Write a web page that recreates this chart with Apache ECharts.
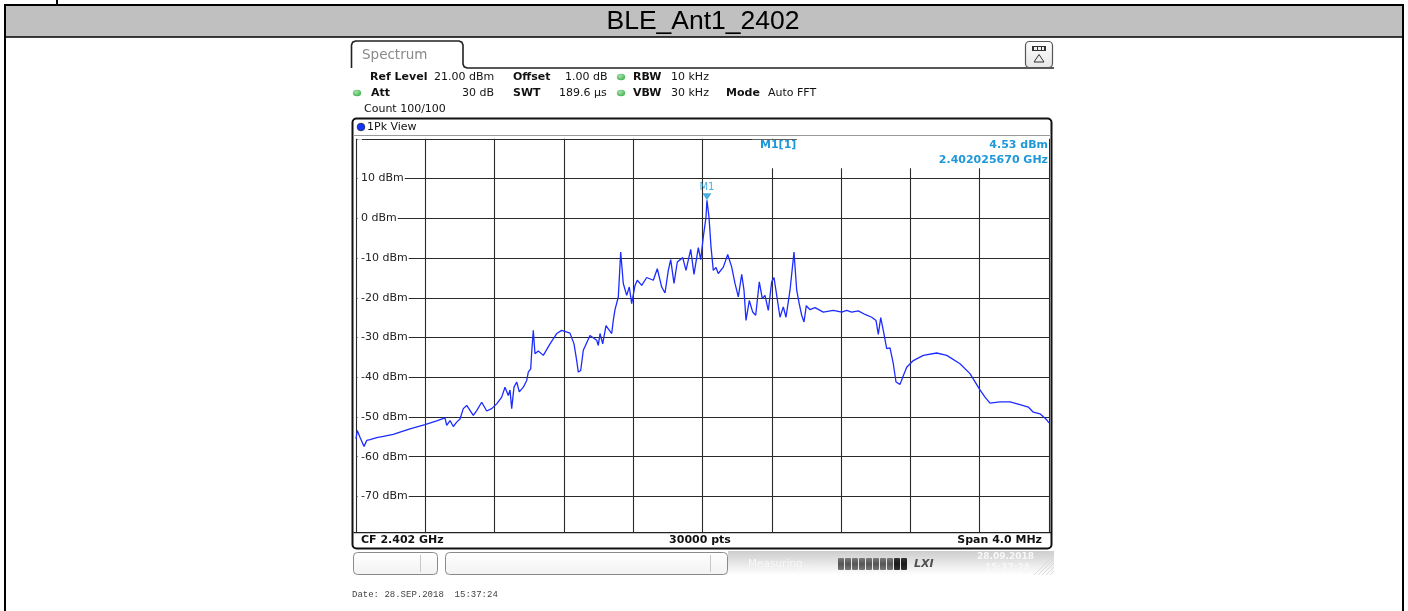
<!DOCTYPE html>
<html><head><meta charset="utf-8">
<script src="https://cdn.jsdelivr.net/npm/echarts@6/dist/echarts.min.js"></script>
<style>html,body{margin:0;padding:0;background:#fff;}#c{width:1408px;height:611px;}</style>
</head><body><div id="c"></div>
<script>
// ---------------- data ----------------
const title = 'BLE_Ant1_2402';
const yTickValues = [10, 0, -10, -20, -30, -40, -50, -60, -70];
const freqMHz = [
2400.0000,2400.0075,2400.0231,2400.0462,2400.0618,2400.0808,2400.1195,2400.1576,2400.2153,2400.2540,
2400.3117,2400.3983,2400.4658,2400.5137,2400.5235,2400.5426,2400.5616,2400.5812,2400.6003,2400.6193,
2400.6390,2400.6771,2400.6967,2400.7255,2400.7544,2400.7833,2400.8121,2400.8410,2400.8600,2400.8791,
2400.8889,2400.8987,2400.9120,2400.9276,2400.9426,2400.9657,2400.9853,2400.9945,2401.0084,2401.0141,
2401.0234,2401.0274,2401.0332,2401.0522,2401.0811,2401.1198,2401.1584,2401.1873,2401.2352,2401.2583,
2401.2739,2401.2831,2401.2970,2401.3120,2401.3506,2401.3893,2401.3986,2401.4084,2401.4240,2401.4430,
2401.4563,2401.4759,2401.4851,
2401.4949,2401.5140,2401.5278,2401.5428,2401.5625,2401.5775,2401.5913,2401.6104,2401.6237,2401.6491,
2401.6779,2401.7160,2401.7391,2401.7645,2401.7835,2401.8026,2401.8165,2401.8355,2401.8545,2401.8857,
2401.9048,2401.9319,2401.9509,2401.9758,2401.9896,2402.0046,2402.0202,2402.0257,2402.0375,2402.0491,
2402.0623,2402.0779,2402.0912,2402.1201,2402.1455,2402.1686,2402.1876,2402.2067,2402.2263,2402.2395,
2402.2511,2402.2701,2402.2898,2402.3071,2402.3278,2402.3452,2402.3608,2402.3798,2402.3994,2402.4127,
2402.4283,2402.4473,2402.4664,2402.4820,2402.5051,2402.5281,2402.5437,2402.5587,2402.5726,2402.5859,
2402.5991,2402.6205,2402.6494,
2402.6973,2402.7550,2402.8035,2402.8323,2402.8612,2402.8993,2402.9380,2402.9766,2403.0014,2403.0147,
2403.0286,2403.0436,2403.0632,2403.0823,2403.1013,2403.1169,2403.1400,2403.1556,2403.1787,2403.2168,
2403.2745,2403.3518,2403.4098,2403.4863,2403.5440,2403.6017,2403.6306,2403.6595,2403.7172,2403.7749,
2403.8326,2403.8805,2403.9094,2403.9481,2403.9867,2404.0000
];
const levelDbm = [
-55.5,-53.4,-55.1,-57.4,-55.9,-55.7,-55.2,-54.9,-54.4,-53.8,
-53.0,-51.9,-51.0,-50.2,-52.1,-50.9,-52.4,-51.3,-50.5,-47.9,
-47.1,-49.6,-48.4,-46.3,-48.5,-47.9,-46.7,-45.0,-42.5,-44.6,
-43.2,-47.9,-42.5,-41.2,-43.7,-42.5,-40.8,-38.7,-37.9,-33.7,
-28.2,-30.7,-34.1,-33.4,-34.5,-31.6,-29.0,-28.2,-28.9,-31.6,
-35.8,-38.7,-38.3,-33.2,-29.5,-30.7,-32.0,-29.0,-31.6,-27.0,
-27.8,-29.0,-25.7,
-23.0,-19.8,-8.5,-16.4,-19.4,-17.3,-21.5,-16.9,-15.6,-16.9,
-14.9,-15.6,-12.7,-17.3,-18.8,-13.1,-10.4,-16.4,-11.0,-9.9,
-13.1,-7.8,-14.1,-7.4,-10.4,-4.7,0.3,4.53,0.3,-7.2,
-13.1,-12.4,-13.9,-12.3,-9.1,-12.3,-16.4,-19.8,-14.1,-18.1,
-25.7,-20.7,-23.6,-24.4,-16.0,-20.2,-19.4,-23.2,-16.0,-14.9,
-19.4,-24.9,-22.3,-24.9,-18.1,-8.5,-18.1,-21.6,-24.4,-26.1,
-22.0,-23.0,-22.5,
-23.6,-23.2,-23.6,-23.2,-23.6,-23.3,-24.2,-24.9,-25.7,-29.2,
-25.0,-28.2,-32.8,-32.6,-36.6,-41.2,-41.8,-40.0,-37.5,-35.8,
-34.5,-33.9,-34.5,-36.6,-39.1,-43.2,-45.0,-46.5,-46.2,-46.2,
-46.9,-47.5,-48.8,-49.2,-50.7,-51.5
];
const markerName = 'M1';
const markerFreqGHz = 2.402025670;
const markerLevel = 4.53;
const infoRow1 = [['Ref Level', true, 370], ['21.00 dBm', false, 434], ['Offset', true, 513], ['1.00 dB', false, 565], ['RBW', true, 633], ['10 kHz', false, 671]];
const infoRow2 = [['Att', true, 371], ['SWT', true, 513], ['189.6 µs', false, 559], ['VBW', true, 633], ['30 kHz', false, 671], ['Mode', true, 726], ['Auto FFT', false, 768]];
const attValue = '30 dB';
const countText = 'Count 100/100';
const viewText = '1Pk View';
const footLeft = 'CF 2.402 GHz', footMid = '30000 pts', footRight = 'Span 4.0 MHz';
const dateText = 'Date: 28.SEP.2018  15:37:24';

// ---------------- chart ----------------
const FONT = 'DejaVu Sans';
const chart = echarts.init(document.getElementById('c'), null, {renderer: 'canvas'});
const GRIDC = '#2a2a2a';
const MK = '#1e98d8';

function txt(x, y, text, opt) {
  opt = opt || {};
  return {type: 'text', x: x, y: y, z: opt.z || 60, silent: true,
    style: {text: text, fill: opt.fill || '#111', textAlign: opt.align || 'left', align: opt.align || 'left',
      textVerticalAlign: 'middle', verticalAlign: 'middle',
      font: (opt.style || 'normal') + ' ' + (opt.weight || 'normal') + ' ' + (opt.size || 11) + 'px ' + (opt.family || FONT)}};
}
function rect(x, y, w, h, style, z, r) {
  return {type: 'rect', shape: {x: x, y: y, width: w, height: h, r: r || 0}, style: style, z: z, silent: true};
}
function line(x1, y1, x2, y2, stroke, w, z) {
  return {type: 'line', shape: {x1: x1, y1: y1, x2: x2, y2: y2}, style: {stroke: stroke, lineWidth: w}, z: z, silent: true};
}
function dot(cx, cy) {
  return {type: 'circle', x: cx, y: cy, scaleX: 1.3, scaleY: 1, shape: {cx: 0, cy: 0, r: 3.2}, z: 60, silent: true,
    style: {fill: {type: 'radial', x: 0.4, y: 0.35, r: 0.8, colorStops: [{offset: 0, color: '#a8e4a8'}, {offset: 1, color: '#32a845'}]}}};
}

const g = [];
// outer page frame and header band
g.push(rect(5, 5, 1398, 32, {fill: '#c0c0c0'}, 1));
g.push(line(4, 5, 1404, 5, '#000', 2, 2));
g.push(line(5, 37, 1403, 37, '#000', 1.5, 2));
g.push(line(5, 4, 5, 611, '#000', 2, 2));
g.push(line(1403, 4, 1403, 611, '#000', 2, 2));
g.push(rect(56, 0, 2, 4, {fill: '#000'}, 2));
g.push(txt(703, 22, title, {size: 26.5, family: 'Liberation Sans', fill: '#000', align: 'center'}));

// spectrum tab
g.push({type: 'polyline', z: 5, silent: true,
  shape: {points: [[351.5, 68], [351.5, 45], [352.7, 42.2], [355.5, 41], [459, 41], [461.8, 42.2], [463, 45], [463, 64], [464.2, 66.8], [467, 68], [1054, 68]]},
  style: {stroke: '#222', lineWidth: 1.6, fill: null}});
g.push(txt(362, 55, 'Spectrum', {size: 13.5, fill: '#8a8a8a'}));
// icon at top right
g.push(rect(1025.5, 41.5, 27, 26, {stroke: '#555', lineWidth: 1.2,
  fill: {type: 'linear', x: 0, y: 0, x2: 0, y2: 1, colorStops: [{offset: 0, color: '#ffffff'}, {offset: 1, color: '#e6e6e6'}]}}, 6, 4));
g.push(rect(1032, 46, 14, 5, {fill: '#333'}, 7));
g.push(rect(1034, 47, 3, 3, {fill: '#eee'}, 8));
g.push(rect(1038, 47, 3, 3, {fill: '#eee'}, 8));
g.push(rect(1042, 47, 2, 3, {fill: '#eee'}, 8));
g.push({type: 'polygon', shape: {points: [[1039, 54.5], [1044, 62], [1034, 62]]}, style: {stroke: '#333', lineWidth: 1, fill: null}, z: 7, silent: true});

// info rows
infoRow1.forEach(function (t) { g.push(txt(t[2], 77, t[0], {weight: t[1] ? 'bold' : 'normal'})); });
infoRow2.forEach(function (t) { g.push(txt(t[2], 93, t[0], {weight: t[1] ? 'bold' : 'normal'})); });
g.push(txt(494, 93, attValue, {align: 'right'}));
g.push(txt(364, 109, countText));
g.push(dot(621, 77)); g.push(dot(357, 93)); g.push(dot(621, 93));

// diagram box
g.push(rect(352.5, 118.5, 699, 430, {stroke: '#111', lineWidth: 2, fill: null}, 55, 4));
g.push(line(353, 135.5, 1051, 135.5, '#9a9a9a', 1, 55));
g.push({type: 'circle', shape: {cx: 361, cy: 127, r: 3.8}, style: {fill: '#1634ff', stroke: '#223', lineWidth: 0.8}, z: 60, silent: true});
g.push(txt(367, 127, viewText));

// marker info box (covers the grid top-right)
g.push(rect(752, 139.8, 297, 28.4, {fill: '#fff'}, 50));
g.push(rect(797, 136.3, 252, 4, {fill: '#fff'}, 50));
g.push(txt(760, 145.5, markerName + '[1]', {weight: 'bold', fill: MK}));
g.push(txt(1048, 145.5, markerLevel.toFixed(2) + ' dBm', {weight: 'bold', fill: MK, align: 'right'}));
g.push(txt(1048, 160, markerFreqGHz.toFixed(9) + ' GHz', {weight: 'bold', fill: MK, align: 'right'}));

// bottom footer row of the diagram
g.push(rect(353.5, 532.6, 697, 15, {fill: '#fff'}, 50));
g.push(line(353.5, 532.6, 1051, 532.6, '#222', 1.4, 52));
g.push(txt(361, 540.5, footLeft, {weight: 'bold'}));
g.push(txt(700, 540.5, footMid, {weight: 'bold', align: 'center'}));
g.push(txt(1042, 540.5, footRight, {weight: 'bold', align: 'right'}));

// status bar
const boxFill = {type: 'linear', x: 0, y: 0, x2: 0, y2: 1, colorStops: [{offset: 0, color: '#ffffff'}, {offset: 1, color: '#f2f2f2'}]};
g.push(rect(353.5, 552.5, 84, 22, {stroke: '#8a8a8a', lineWidth: 1, fill: boxFill}, 10, 4));
g.push(line(420.5, 555, 420.5, 572, '#c8c8c8', 1, 11));
g.push(rect(445.5, 552.5, 282, 22, {stroke: '#8a8a8a', lineWidth: 1, fill: boxFill}, 10, 4));
g.push(line(710.5, 555, 710.5, 572, '#c8c8c8', 1, 11));
g.push(rect(728, 551, 326, 24, {fill: {type: 'linear', x: 0, y: 0, x2: 0, y2: 1, colorStops: [{offset: 0, color: '#cdcdcd'}, {offset: 0.6, color: '#ececec'}, {offset: 1, color: '#ffffff'}]}}, 10));
g.push(txt(748, 564, 'Measuring...', {fill: '#f7f7f7', size: 10.5}));
for (let i = 0; i < 10; i++) {
  const dark = i >= 8;
  g.push(rect(838 + i * 7, 558, 6, 12, {fill: {type: 'linear', x: 0, y: 0, x2: 0, y2: 1,
    colorStops: [{offset: 0, color: dark ? '#333' : '#7a7a7a'}, {offset: 0.5, color: dark ? '#1a1a1a' : '#555'}, {offset: 1, color: dark ? '#333' : '#777'}]}}, 12, 1));
}
g.push(txt(914, 564, 'LXI', {style: 'italic', weight: 'bold', size: 11, fill: '#505050'}));
g.push(txt(977, 557, '28.09.2018', {size: 9, fill: '#f7f7f7', weight: 'bold'}));
g.push(txt(985, 568, '15:37:24', {size: 9, fill: '#f7f7f7', weight: 'bold'}));
for (let i = 0; i < 5; i++) {
  g.push(line(1034 + i * 4, 575, 1054, 555 + i * 4, '#d6d6d6', 0.8, 12));
}
// footer date line
g.push(txt(352, 595, dateText, {size: 9, family: 'Liberation Mono', fill: '#444'}));

const traceData = freqMHz.map(function (f, i) { return [f, levelDbm[i]]; });

chart.setOption({
  animation: false,
  backgroundColor: '#ffffff',
  grid: {left: 356, top: 138.8, width: 693, height: 397.4, show: false},
  xAxis: {type: 'value', min: 2400, max: 2404, interval: 0.4,
    axisLine: {show: false}, axisTick: {show: false}, axisLabel: {show: false},
    splitLine: {show: true, lineStyle: {color: GRIDC, width: 1.1}}},
  yAxis: {type: 'value', min: -80, max: 20, interval: 10,
    axisLine: {show: false}, axisTick: {show: false},
    axisLabel: {inside: true, margin: 1.5, color: '#222', fontFamily: FONT, fontSize: 11,
      backgroundColor: '#ffffff', padding: [1, 1, 1, 3.5],
      formatter: function (v) { return yTickValues.indexOf(v) >= 0 ? v + ' dBm' : ''; }},
    splitLine: {show: true, lineStyle: {color: GRIDC, width: 1.1}}},
  series: [
    {type: 'line', data: traceData, showSymbol: false, silent: true, z: 3,
      lineStyle: {color: '#1c2cff', width: 1.3}},
    {type: 'scatter', data: [[markerFreqGHz * 1000, markerLevel]], silent: true, z: 4,
      symbol: 'triangle', symbolRotate: 180, symbolSize: [9, 7], symbolOffset: [0, -3.5],
      itemStyle: {color: MK},
      label: {show: true, formatter: markerName, position: 'top', distance: 1, color: MK, fontFamily: FONT, fontSize: 10}}
  ],
  graphic: {elements: g}
});
</script>
</body></html>
